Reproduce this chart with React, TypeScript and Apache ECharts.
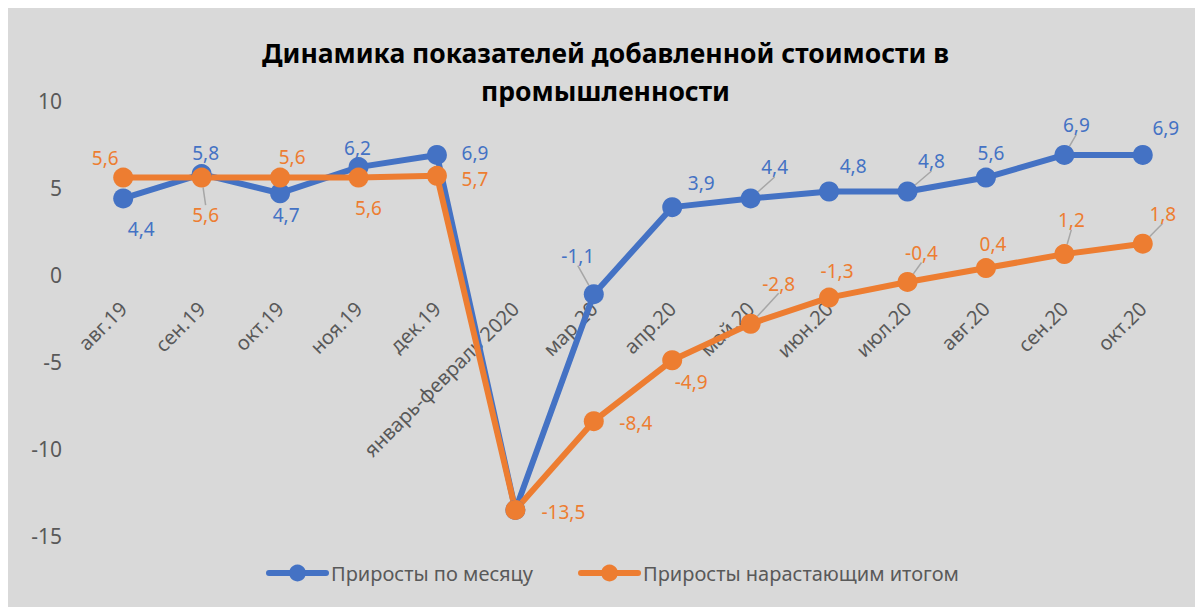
import React, { useEffect, useRef } from "react";
import * as echarts from "echarts";

const categories = [
  "авг.19", "сен.19", "окт.19", "ноя.19", "дек.19", "январь-февраль 2020",
  "мар.20", "апр.20", "май.20", "июн.20", "июл.20", "авг.20", "сен.20", "окт.20",
];
const monthly = [4.4, 5.8, 4.7, 6.2, 6.9, -13.5, -1.1, 3.9, 4.4, 4.8, 4.8, 5.6, 6.9, 6.9];
const cumulative = [5.6, 5.6, 5.6, 5.6, 5.7, -13.5, -8.4, -4.9, -2.8, -1.3, -0.4, 0.4, 1.2, 1.8];
const seriesNames = ["Приросты по месяцу", "Приросты нарастающим итогом"];
const titleText = "Динамика показателей добавленной стоимости в\nпромышленности";
const yMin = -15;
const yMax = 10;
const yStep = 5;

// label placement (styling): offsets from the point, in px
const labelOffsets = [
  [[18, 31], [4, -21], [6, 22], [-1, -19], [38, -2], [0, 0], [-16, -38], [29, -24], [24, -31], [24, -25], [24, -30], [5, -25], [12, -30], [23, -27]],
  [[-18, -20], [4, 37], [12, -21], [10, 30], [38, 3], [48, 2], [42, 2], [19, 22], [28, -40], [8, -27], [14, -29], [7, -24], [7, -34], [20, -30]],
];
const leaderIdx = [[6, 8, 10, 12], [1, 8, 10, 12, 13]];
const hiddenLabel = [[5], []];

const COLORS = ["#4472C4", "#ED7D31"];
const FONT = "Noto Sans";
const W = 1195;
const H = 599;
const GRID = { left: 76, right: 21, top: 93, bottom: 71 };

export default function App() {
  const ref = useRef<HTMLDivElement>(null);
  useEffect(() => {
    if (!ref.current) return;
    const chart = echarts.init(ref.current, null, { renderer: "svg" });
    const fmt = (v: number) => String(v).replace(".", ",");
    const mk = (vals: number[], s: number) =>
      vals.map((v, i) => ({
        value: v,
        label: { show: !hiddenLabel[s].includes(i) },
        labelLine: { show: leaderIdx[s].includes(i) },
      }));
    // move the category axis up to the zero line
    const gridH = H - GRID.top - GRID.bottom;
    const zeroOffset = -((0 - yMin) / (yMax - yMin)) * gridH;
    chart.setOption({
      animation: false,
      backgroundColor: "#d9d9d9",
      title: {
        text: titleText,
        left: "center",
        top: 21,
        textStyle: { fontFamily: FONT, fontWeight: "bold", fontSize: 26.5, lineHeight: 38, color: "#000" },
      },
      legend: {
        left: 253,
        top: 550,
        itemWidth: 57,
        itemHeight: 21,
        itemGap: 45,
        lineStyle: { width: 6, cap: "round" },
        textStyle: { fontFamily: FONT, fontSize: 20, color: "#595959" },
        data: seriesNames,
      },
      grid: { ...GRID, containLabel: false, outerBoundsMode: "none" },
      xAxis: {
        type: "category",
        data: categories,
        boundaryGap: true,
        position: "bottom",
        offset: zeroOffset,
        axisLine: { show: false, onZero: false },
        axisTick: { show: false },
        axisLabel: { rotate: 45, margin: 30, fontFamily: FONT, fontSize: 20, color: "#595959", interval: 0 },
      },
      yAxis: {
        type: "value",
        min: yMin,
        max: yMax,
        interval: yStep,
        splitLine: { show: false },
        axisLine: { show: false },
        axisTick: { show: false },
        axisLabel: { margin: 22, fontFamily: FONT, fontSize: 21, color: "#595959" },
      },
      series: [monthly, cumulative].map((vals, s) => ({
        name: seriesNames[s],
        type: "line",
        data: mk(vals, s),
        symbol: "circle",
        symbolSize: 20,
        color: COLORS[s],
        lineStyle: { width: 6, color: COLORS[s] },
        itemStyle: { color: COLORS[s] },
        label: {
          show: true,
          position: "inside",
          formatter: (p: any) => fmt(p.value),
          fontFamily: FONT,
          fontSize: 19,
          color: COLORS[s],
        },
        labelLine: { show: true, lineStyle: { color: "#a6a6a6", width: 1.5 } },
        labelLayout: (p: any) => {
          const o = labelOffsets[s][p.dataIndex];
          return { dx: o[0], dy: o[1] };
        },
      })),
    });
    return () => chart.dispose();
  }, []);
  return <div ref={ref} style={{ width: W, height: H }} />;
}
